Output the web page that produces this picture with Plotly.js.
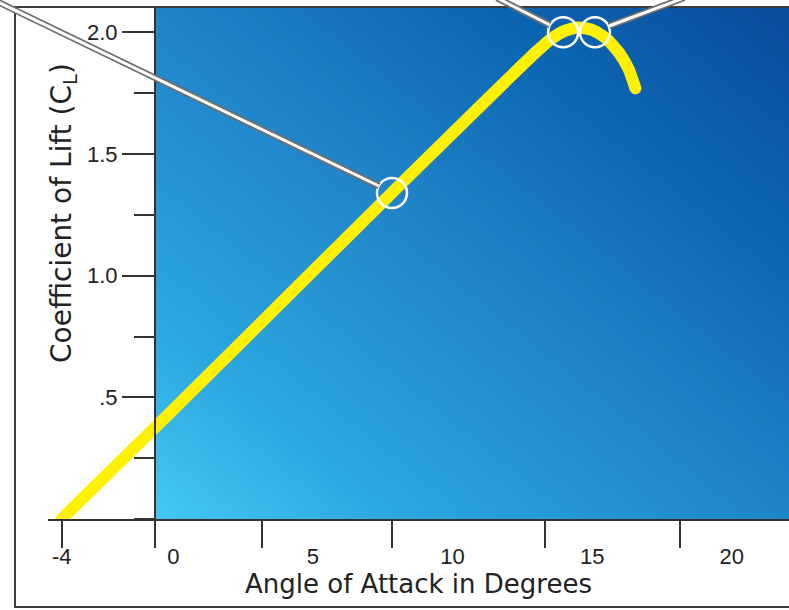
<!DOCTYPE html>
<html>
<head>
<meta charset="utf-8">
<script src="https://cdn.plot.ly/plotly-3.0.1.min.js"></script>
<style>
  html, body { margin: 0; padding: 0; background: #fff; }
  #chart { width: 789px; height: 610px; }
  .scatterlayer .js-line { stroke-linecap: round; }
</style>
</head>
<body>
<div id="chart"></div>
<script>
// ---- data ----
const xTickLabelValues = [-4, 0, 5, 10, 15, 20];
const xTickLabelText   = ['-4', '0', '5', '10', '15', '20'];
const xTickMarkValues  = [-4, -0.66, 3.17, 7.83, 13.31, 18.15];
const yTickValues      = [0.5, 1.0, 1.5, 2.0];
const yTickText        = ['.5', '1.0', '1.5', '2.0'];

const angleOfAttack = [-4, 0, 4, 8, 12, 13, 13.5, 14, 14.5, 15, 15.5, 16, 16.3, 16.55];
const liftCoefficient = [0, 0.45, 0.905, 1.36, 1.81, 1.92, 1.97, 2.005, 2.02, 2.01, 1.975, 1.91, 1.85, 1.77];

const markedAngle = [7.83, 13.96, 15.1];
const markedLift  = [1.34, 2.0, 2.0];

const xTitle = 'Angle of Attack in Degrees';
const yTitle = 'Coefficient of Lift (C<sub>L</sub>)';

// ---- layout helpers (page pixels -> paper) ----
const W = 789, H = 610;
const px = v => v / W;
const py = v => 1 - v / H;

const gradientSvg =
  "<svg xmlns='http://www.w3.org/2000/svg' width='634' height='511' viewBox='0 0 634 511' preserveAspectRatio='none'>" +
  "<defs><linearGradient id='g' x1='0' y1='1' x2='1' y2='0'>" +
  "<stop offset='0' stop-color='#44c8f1'/>" +
  "<stop offset='0.2' stop-color='#2ba6e0'/>" +
  "<stop offset='0.5' stop-color='#2084c8'/>" +
  "<stop offset='0.75' stop-color='#0d67b2'/>" +
  "<stop offset='1' stop-color='#0a4c9c'/>" +
  "</linearGradient></defs><rect width='634' height='511' fill='url(#g)'/></svg>";

function callout(x0, y0, x1, y1) {
  return [
    {type: 'line', xref: 'paper', yref: 'paper', x0: px(x0), y0: py(y0), x1: px(x1), y1: py(y1),
     line: {color: '#6e6e6e', width: 6.5}, layer: 'above'},
    {type: 'line', xref: 'paper', yref: 'paper', x0: px(x0), y0: py(y0), x1: px(x1), y1: py(y1),
     line: {color: '#ffffff', width: 3}, layer: 'above'}
  ];
}

const textColor = '#222222';
const titleFont = 'DejaVu Sans, Arial, sans-serif';
const tickFont = 'Liberation Sans, Arial, sans-serif';

const traces = [
  {
    x: angleOfAttack, y: liftCoefficient, type: 'scatter', mode: 'lines',
    line: {color: '#fff100', width: 12, shape: 'spline', smoothing: 0.6},
    xaxis: 'x', yaxis: 'y', hoverinfo: 'x+y', showlegend: false
  },
  {
    x: markedAngle, y: markedLift, type: 'scatter', mode: 'markers',
    marker: {symbol: 'circle-open', size: 30, color: '#ffffff', line: {width: 2.5, color: '#ffffff'}},
    xaxis: 'x', yaxis: 'y', hoverinfo: 'x+y', showlegend: false, cliponaxis: false
  },
  {
    // carrier for the tick-mark axis (invisible)
    x: markedAngle, y: markedLift, type: 'scatter', mode: 'markers',
    marker: {opacity: 0, size: 1},
    xaxis: 'x2', yaxis: 'y', hoverinfo: 'skip', showlegend: false
  }
];

const xRange = [-4.49, 22.05];

const layout = {
  width: W, height: H,
  margin: {l: 0, r: 0, t: 0, b: 0, pad: 0},
  paper_bgcolor: '#ffffff',
  plot_bgcolor: 'rgba(0,0,0,0)',
  font: {family: titleFont, color: textColor, size: 20},
  showlegend: false,
  xaxis: {
    domain: [px(48), 1],
    range: xRange,
    anchor: 'y',
    showgrid: false, zeroline: false,
    showline: true, linecolor: '#333333', linewidth: 2,
    tickmode: 'array', tickvals: xTickLabelValues, ticktext: xTickLabelText,
    ticks: 'outside', ticklen: 17, tickcolor: 'rgba(0,0,0,0)',
    tickfont: {family: tickFont, size: 22, color: textColor},
    title: {text: xTitle, font: {family: titleFont, size: 26, color: textColor}, standoff: 0}
  },
  xaxis2: {
    domain: [px(48), 1],
    range: xRange,
    anchor: 'y',
    overlaying: 'x',
    showgrid: false, zeroline: false, showline: false,
    tickmode: 'array', tickvals: xTickMarkValues,
    ticks: 'outside', ticklen: 28, tickwidth: 2, tickcolor: '#333333',
    showticklabels: false
  },
  yaxis: {
    domain: [1 - 519 / H, 1 - 8 / H],
    range: [0, 2.1],
    anchor: 'free', position: px(155),
    showgrid: false, zeroline: false,
    showline: true, linecolor: '#333333', linewidth: 2,
    tickmode: 'array', tickvals: yTickValues, ticktext: yTickText,
    ticks: 'outside', ticklen: 32, tickwidth: 2, tickcolor: '#333333',
    minor: {dtick: 0.25, tick0: 0, ticks: 'outside', ticklen: 20, tickwidth: 2, tickcolor: '#333333', showgrid: false},
    tickfont: {family: tickFont, size: 22, color: textColor}
  },
  annotations: [{
    text: yTitle, textangle: -90,
    xref: 'paper', yref: 'paper', x: px(63), y: py(213),
    xanchor: 'center', yanchor: 'middle', showarrow: false,
    font: {family: titleFont, size: 28, color: textColor}
  }],
  images: [{
    source: 'data:image/svg+xml;charset=utf-8,' + encodeURIComponent(gradientSvg),
    xref: 'paper', yref: 'y',
    x: px(155), y: 2.1, sizex: 1 - px(155), sizey: 2.1,
    xanchor: 'left', yanchor: 'top', sizing: 'stretch', layer: 'below'
  }],
  shapes: [
    {type: 'rect', xref: 'paper', yref: 'paper', x0: px(15), x1: px(810), y0: py(607), y1: py(7),
     line: {color: '#3c3c3c', width: 2}, fillcolor: 'rgba(0,0,0,0)', layer: 'above'}
  ].concat(
    callout(-2, 2, 379, 186),
    callout(497, -2, 550, 25),
    callout(684, -2, 609, 26)
  )
};

Plotly.newPlot('chart', traces, layout, {displayModeBar: false, staticPlot: true});
</script>
</body>
</html>
